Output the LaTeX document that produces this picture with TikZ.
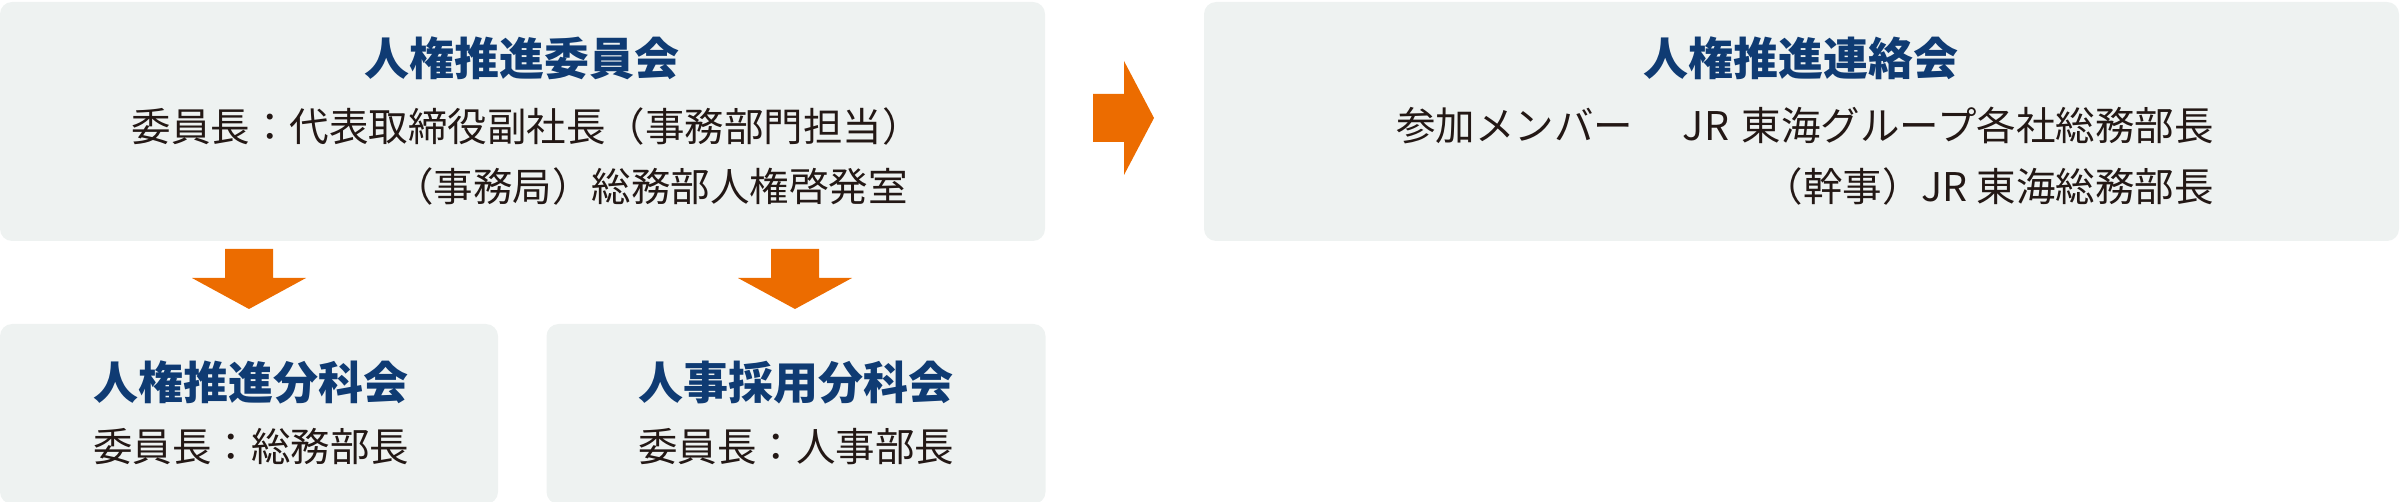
\documentclass[tikz,border=0pt]{standalone}
\usepackage{fontspec}
\newfontfamily\jp{Noto Sans CJK JP}
\usetikzlibrary{calc}
\definecolor{boxfill}{HTML}{EEF2F1}
\definecolor{arroworange}{HTML}{EC6C00}
\definecolor{titleblue}{HTML}{0F3B73}
\definecolor{bodytext}{HTML}{231815}
\tikzset{
  panel/.style={fill=boxfill, draw=none, rounded corners=6pt, inner sep=0pt},
  titletext/.style={font=\jp\bfseries\fontsize{22.5pt}{27pt}\selectfont, text=titleblue, inner sep=0pt, anchor=base},
  bodyline/.style={font=\jp\fontsize{19.75pt}{24pt}\selectfont, text=bodytext, inner sep=0pt, anchor=base east},
  bodycenter/.style={font=\jp\fontsize{19.75pt}{24pt}\selectfont, text=bodytext, inner sep=0pt, anchor=base},
  blockarrow/.style={fill=arroworange, draw=none}
}
\begin{document}
\begin{tikzpicture}[x=0.5pt, y=-0.5pt]
\useasboundingbox (0,0) rectangle (2400,502);
% panels
\node[panel, minimum width=522.5pt, minimum height=119.5pt] (tl) at (522.5,121.5) {};
\node[panel, minimum width=597.5pt, minimum height=119.5pt] (tr) at (1801.5,121.5) {};
\node[panel, minimum width=249pt, minimum height=90pt] (bl) at (249,414) {};
\node[panel, minimum width=249.5pt, minimum height=90pt] (bm) at (796,414) {};
% top-left texts
\node[titletext] (tlt) at (522,76) {人権推進委員会};
\node[bodyline] (tl1) at (922,142) {委員長：代表取締役副社長（事務部門担当）};
\node[bodyline] (tl2) at (908,202) {（事務局）総務部人権啓発室};
% top-right texts
\node[titletext] (trt) at (1801,76) {人権推進連絡会};
\node[bodyline] (tr1) at (2214,141) {参加メンバー　\hspace{5pt}JR\hspace{2pt} 東海グループ各社総務部長};
\node[bodyline] (tr2) at (2214,202) {（幹事）JR 東海総務部長};
% bottom texts
\node[titletext] (blt) at (251,400) {人権推進分科会};
\node[bodycenter] (bl1) at (251,461) {委員長：総務部長};
\node[titletext] (bmt) at (796,400) {人事採用分科会};
\node[bodycenter] (bm1) at (796,461) {委員長：人事部長};
% arrows
\coordinate (d1) at (249,309);
\coordinate (d2) at (795,309);
\coordinate (r1) at (1154,118);
\fill[blockarrow] (d1) ++(-24,-60) -- ++(48,0) -- ++(0,29) -- ++(33,0) -- (d1) -- ++(-57,-31) -- ++(33,0) -- cycle;
\fill[blockarrow] (d2) ++(-24,-60) -- ++(48,0) -- ++(0,29) -- ++(33,0) -- (d2) -- ++(-57,-31) -- ++(33,0) -- cycle;
\fill[blockarrow] (r1) ++(-61,-24) -- ++(31,0) -- ++(0,-33) -- (r1) -- ++(-30,57) -- ++(0,-33) -- ++(-31,0) -- cycle;
\end{tikzpicture}
\end{document}
